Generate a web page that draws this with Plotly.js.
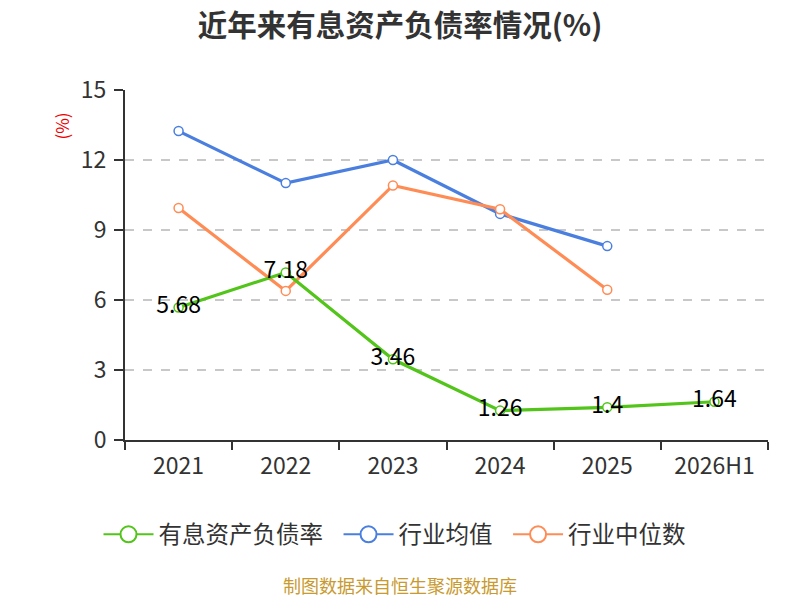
<!DOCTYPE html>
<html><head><meta charset="utf-8">
<script src="https://cdn.plot.ly/plotly-3.0.1.min.js"></script>
<style>body{margin:0;background:#fff}#c{width:800px;height:600px}</style>
</head><body><div id="c"></div>
<script>
const categories = ["2021","2022","2023","2024","2025","2026H1"];
const debtRatio = [5.68, 7.18, 3.46, 1.26, 1.4, 1.64];
const industryAvg = [13.24, 11.01, 12.0, 9.69, 8.31, null];
const industryMedian = [9.94, 6.39, 10.91, 9.89, 6.44, null];
const seriesNames = ["有息资产负债率", "行业均值", "行业中位数"];
const colors = ["#52c41a", "#4a7fe0", "#ff8c55"];
const FONT = "'Noto Sans CJK SC', 'Noto Sans', sans-serif";

function mk(y, i, labels) {
  const t = {
    x: categories, y: y, name: seriesNames[i], type: 'scatter',
    mode: labels ? 'lines+markers+text' : 'lines+markers',
    line: {color: colors[i], width: 3.2},
    marker: {symbol: 'circle', size: 9, color: '#fff', line: {color: colors[i], width: 1.5}},
    cliponaxis: false, hoverinfo: 'none', showlegend: false
  };
  if (labels) {
    t.text = y.map(v => String(v));
    t.textposition = 'middle center';
    t.textfont = {family: FONT, size: 23, color: '#000'};
  }
  return t;
}
function legendItem(i) {
  return {
    x: [categories[0]], y: [null], name: seriesNames[i] + '\u00a0\u00a0', type: 'scatter', mode: 'lines+markers',
    line: {color: colors[i], width: 2},
    marker: {symbol: 'circle', size: 21, color: '#fff', line: {color: colors[i], width: 2}},
    showlegend: true, hoverinfo: 'none'
  };
}
const data = [mk(industryAvg, 1, false), mk(industryMedian, 2, false), mk(debtRatio, 0, true),
  legendItem(0), legendItem(1), legendItem(2)];

const CX = (400 - 125) / 643;
const layout = {
  width: 800, height: 600,
  margin: {l: 125, r: 32, t: 90, b: 160, autoexpand: false},
  paper_bgcolor: '#fff', plot_bgcolor: '#fff',
  font: {family: FONT, color: '#333'},
  title: {text: '<b>近年来有息资产负债率情况(%)</b>', x: 0.5, xref: 'container', xanchor: 'center', y: 0.958, yanchor: 'middle', font: {size: 29.5, color: '#333', family: FONT}},
  showlegend: true,
  legend: {orientation: 'h', x: CX, xanchor: 'center', y: -0.27, yanchor: 'middle', font: {size: 23.5, color: '#333', family: FONT}, traceorder: 'normal', itemwidth: 50},
  xaxis: {
    type: 'category', tickson: 'boundaries', ticks: 'outside', ticklen: 8, tickcolor: '#333', tickwidth: 2,
    showline: true, linecolor: '#333', linewidth: 2, showgrid: false, ticklabelstandoff: 4, tickangle: 0,
    tickfont: {size: 23, color: '#333', family: FONT}, range: [-0.5, 5.5], fixedrange: true
  },
  yaxis: {
    range: [0, 15], tickvals: [0, 3, 6, 9, 12, 15], ticks: 'outside', ticklen: 9, tickcolor: '#333', tickwidth: 2,
    showline: true, linecolor: '#333', linewidth: 2, ticklabelstandoff: 3,
    showgrid: true, gridcolor: '#c8c8c8', griddash: 'dash', gridwidth: 1.5, zeroline: false,
    tickfont: {size: 23, color: '#333', family: FONT}
  },
  annotations: [
    {text: '(%)', xref: 'paper', yref: 'paper', x: -0.122, y: 0.94, textangle: -90, showarrow: false, font: {size: 17, color: '#e00', family: FONT}},
    {text: '制图数据来自恒生聚源数据库', xref: 'paper', yref: 'paper', x: CX, y: -0.415, xanchor: 'center', yanchor: 'middle', showarrow: false, font: {size: 18, color: '#c89a30', family: FONT}}
  ]
};
Plotly.newPlot('c', data, layout, {displayModeBar: false, staticPlot: true});
</script></body></html>
